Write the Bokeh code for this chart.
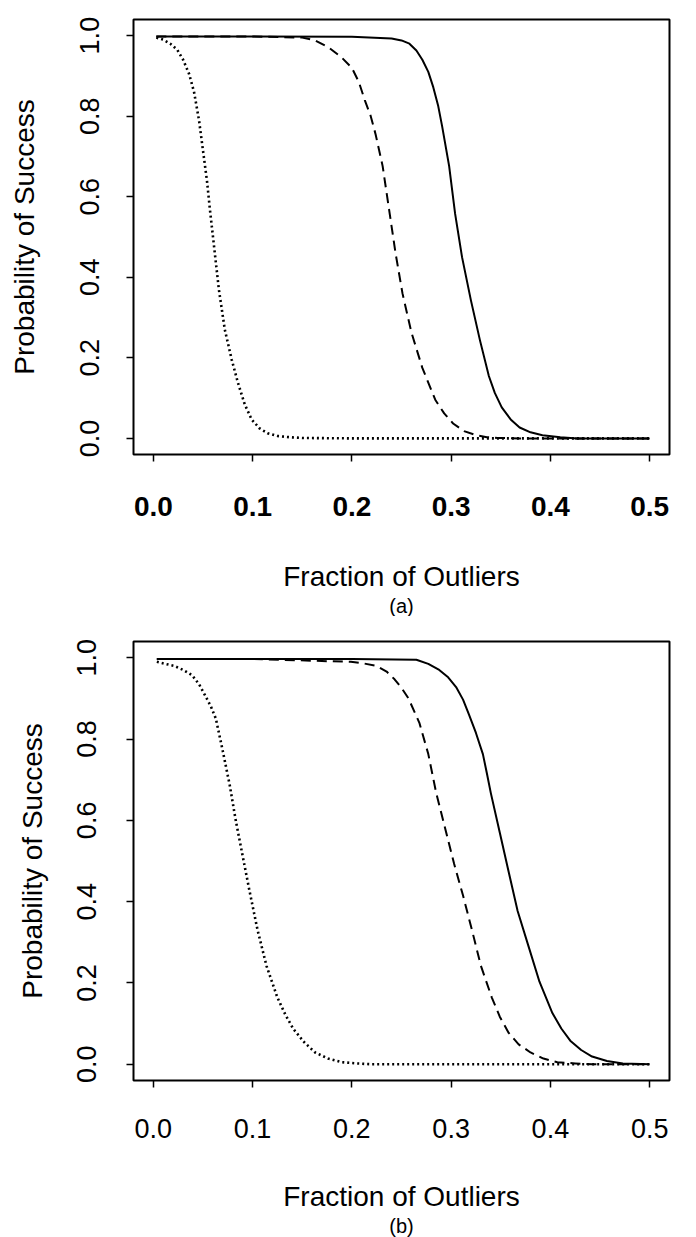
from bokeh.plotting import figure
from bokeh.layouts import column
from bokeh.models import Range1d, FixedTicker, Title, CustomJSTickFormatter
from bokeh.embed import file_html
from bokeh.resources import INLINE

# ---------------- data ----------------
# Panel (a)
a_dot_x = [0.003, 0.010, 0.017, 0.024, 0.030, 0.036, 0.041, 0.046, 0.050, 0.054, 0.057, 0.061, 0.066, 0.072,
           0.079, 0.085, 0.092, 0.099, 0.107, 0.115, 0.125, 0.137, 0.150, 0.200, 0.300, 0.400, 0.500]
a_dot_y = [0.995, 0.990, 0.980, 0.965, 0.940, 0.905, 0.860, 0.790, 0.715, 0.640, 0.568, 0.480, 0.370, 0.270,
           0.195, 0.140, 0.085, 0.047, 0.025, 0.013, 0.006, 0.003, 0.001, 0.0, 0.0, 0.0, 0.0]

a_dash_x = [0.003, 0.100, 0.150, 0.163, 0.177, 0.190, 0.200, 0.207, 0.213, 0.219, 0.224, 0.231, 0.2375, 0.244,
            0.251, 0.260, 0.271, 0.284, 0.293, 0.302, 0.313, 0.325, 0.336, 0.347, 0.370, 0.450, 0.500]
a_dash_y = [0.998, 0.998, 0.995, 0.988, 0.970, 0.945, 0.920, 0.885, 0.840, 0.800, 0.754, 0.676, 0.568, 0.460,
            0.360, 0.263, 0.175, 0.096, 0.062, 0.037, 0.018, 0.008, 0.003, 0.001, 0.0, 0.0, 0.0]

a_sol_x = [0.003, 0.100, 0.200, 0.240, 0.250, 0.258, 0.265, 0.271, 0.277, 0.282, 0.287, 0.291, 0.298, 0.304,
           0.311, 0.320, 0.329, 0.338, 0.344, 0.351, 0.360, 0.369, 0.380, 0.392, 0.410, 0.427, 0.500]
a_sol_y = [0.998, 0.998, 0.997, 0.993, 0.988, 0.980, 0.963, 0.940, 0.910, 0.872, 0.825, 0.774, 0.676, 0.558,
           0.450, 0.342, 0.244, 0.155, 0.113, 0.077, 0.047, 0.027, 0.015, 0.008, 0.003, 0.0, 0.0]

# Panel (b)
b_dot_x = [0.0035, 0.012, 0.021, 0.030, 0.039, 0.046, 0.052, 0.058, 0.063, 0.070, 0.077, 0.083, 0.090, 0.097,
           0.105, 0.114, 0.125, 0.133, 0.141, 0.152, 0.163, 0.176, 0.190, 0.205, 0.220, 0.300, 0.400, 0.500]
b_dot_y = [0.990, 0.985, 0.980, 0.970, 0.957, 0.935, 0.908, 0.880, 0.850, 0.770, 0.686, 0.600, 0.512, 0.425,
           0.330, 0.242, 0.164, 0.122, 0.087, 0.054, 0.029, 0.014, 0.005, 0.002, 0.0, 0.0, 0.0, 0.0]

b_dash_x = [0.0035, 0.100, 0.199, 0.212, 0.225, 0.235, 0.243, 0.250, 0.257, 0.268, 0.277, 0.285, 0.294, 0.303,
            0.312, 0.321, 0.330, 0.341, 0.349, 0.358, 0.368, 0.380, 0.393, 0.407, 0.425, 0.442, 0.500]
b_dash_y = [0.997, 0.997, 0.990, 0.986, 0.980, 0.966, 0.947, 0.926, 0.900, 0.840, 0.763, 0.667, 0.580, 0.493,
            0.415, 0.330, 0.242, 0.164, 0.117, 0.077, 0.049, 0.029, 0.014, 0.005, 0.002, 0.0, 0.0]

b_sol_x = [0.0035, 0.100, 0.200, 0.265, 0.277, 0.288, 0.297, 0.305, 0.312, 0.318, 0.325, 0.332, 0.336, 0.340,
           0.349, 0.358, 0.367, 0.378, 0.389, 0.402, 0.411, 0.420, 0.431, 0.442, 0.457, 0.473, 0.500]
b_sol_y = [0.997, 0.997, 0.997, 0.995, 0.985, 0.970, 0.952, 0.928, 0.897, 0.860, 0.815, 0.763, 0.716, 0.667,
           0.570, 0.473, 0.377, 0.290, 0.203, 0.126, 0.088, 0.058, 0.035, 0.019, 0.008, 0.002, 0.0]

x_ticks = [0.0, 0.1, 0.2, 0.3, 0.4, 0.5]
y_ticks = [0.0, 0.2, 0.4, 0.6, 0.8, 1.0]
x_title = "Fraction of Outliers"
y_title = "Probability of Success"

FONT = "Liberation Sans"


def make_panel(w, h, left, right, top, bottom, curves, tag,
               xlab_standoff, xtitle_standoff, ylab_standoff, ytitle_standoff,
               xlab_bold, tag_standoff):
    p = figure(width=w, height=h, output_backend="svg", toolbar_location=None,
               x_range=Range1d(-0.02, 0.52), y_range=Range1d(-0.04, 1.04),
               min_border_left=left, min_border_right=right,
               min_border_top=top, min_border_bottom=bottom)
    p.grid.visible = False
    p.background_fill_color = "white"
    p.border_fill_color = "white"
    p.outline_line_color = "black"
    p.outline_line_width = 2

    (dx, dy), (sx_, sy_), (lx, ly) = curves
    p.line(dx, dy, line_color="black", line_width=2.6, line_dash="2 3", line_join="round")
    p.line(sx_, sy_, line_color="black", line_width=2, line_dash="10 6", line_join="round")
    p.line(lx, ly, line_color="black", line_width=2, line_join="round")

    fmt = CustomJSTickFormatter(code="return tick.toFixed(1);")
    for ax, ticks in ((p.xaxis[0], x_ticks), (p.yaxis[0], y_ticks)):
        ax.ticker = FixedTicker(ticks=ticks)
        ax.formatter = fmt
        ax.minor_tick_line_color = None
        ax.axis_line_color = None
        ax.major_tick_in = 0
        ax.major_tick_out = 7
        ax.major_tick_line_width = 1.5
        ax.major_tick_line_color = "black"
        ax.major_label_text_font = FONT
        ax.major_label_text_font_size = "27px"
        ax.major_label_text_color = "black"
        ax.axis_label_text_font = FONT
        ax.axis_label_text_font_size = "28px"
        ax.axis_label_text_font_style = "normal"
        ax.axis_label_text_color = "black"

    p.xaxis.axis_label = x_title
    p.xaxis.major_label_standoff = xlab_standoff
    p.xaxis.axis_label_standoff = xtitle_standoff
    if xlab_bold:
        p.xaxis.major_label_text_font_style = "bold"
        p.xaxis.major_label_text_font_size = "28px"
    p.yaxis.axis_label = y_title
    p.yaxis.major_label_orientation = "vertical"
    p.yaxis.major_label_standoff = ylab_standoff
    p.yaxis.axis_label_standoff = ytitle_standoff

    t = Title(text=tag, align="center", text_font=FONT, text_font_size="20px",
              text_font_style="normal", text_color="black", standoff=tag_standoff)
    p.add_layout(t, "below")
    return p


pa = make_panel(688, 616, 133, 17, 19, 162,
                ((a_dot_x, a_dot_y), (a_dash_x, a_dash_y), (a_sol_x, a_sol_y)),
                "(a)", 35, 42, 27, 38, True, -4)
pb = make_panel(688, 621, 128, 19, 25, 157,
                ((b_dot_x, b_dot_y), (b_dash_x, b_dash_y), (b_sol_x, b_sol_y)),
                "(b)", 31, 40, 30, 27, False, -4)

layout = column(pa, pb, spacing=0)
open("out.html", "w").write(file_html(layout, INLINE))
